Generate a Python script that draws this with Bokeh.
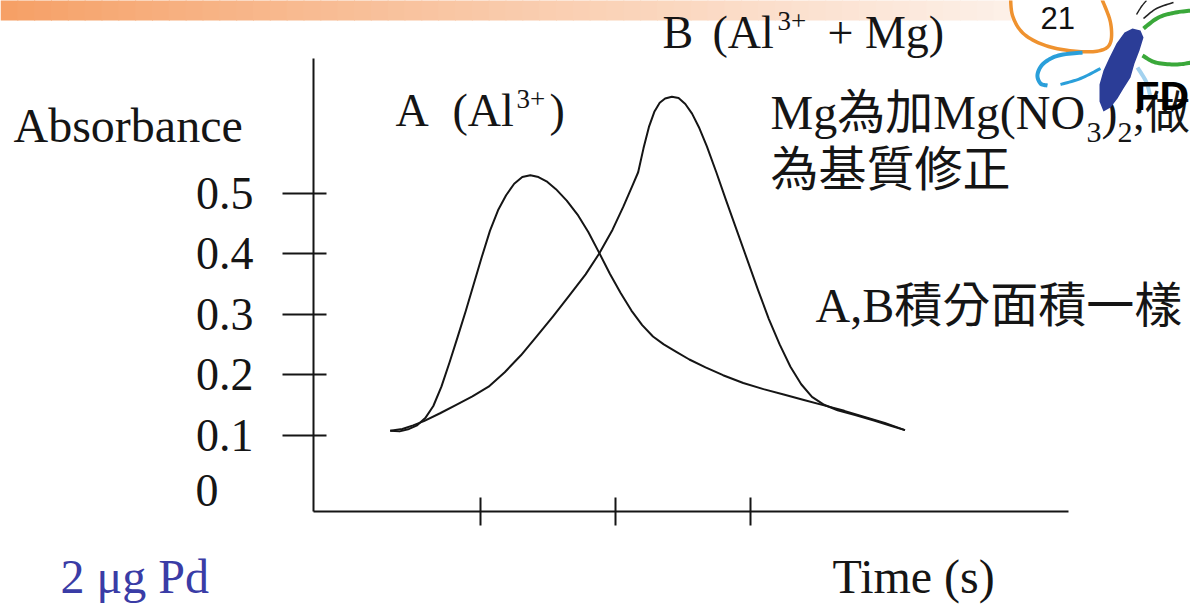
import numpy as np
from bokeh.plotting import figure
from bokeh.models import Range1d, FixedTicker, Label, PolyAnnotation
from bokeh.embed import file_html
from bokeh.resources import INLINE

# ---------------- data ----------------
time_ticks = [1, 2, 3]
absorbance_ticks = [0.1, 0.2, 0.3, 0.4, 0.5]

# curve A (Al3+)
a_time = [0.33, 0.40, 0.47, 0.53, 0.59, 0.65, 0.71, 0.77, 0.83, 0.89, 0.95, 1.01,
          1.07, 1.13, 1.19, 1.25, 1.31, 1.37, 1.43, 1.49, 1.56, 1.64, 1.72, 1.80,
          1.88, 1.96, 2.04, 2.12, 2.20, 2.28, 2.36, 2.45, 2.55, 2.67, 2.80, 2.95,
          3.10, 3.25, 3.40, 3.55, 3.70, 3.85, 4.00, 4.15]
a_abs = [0.107, 0.106, 0.110, 0.116, 0.128, 0.148, 0.180, 0.220, 0.262, 0.305, 0.350, 0.395,
         0.438, 0.472, 0.497, 0.516, 0.527, 0.530, 0.527, 0.520, 0.507, 0.488, 0.465, 0.436,
         0.402, 0.367, 0.335, 0.306, 0.282, 0.263, 0.250, 0.238, 0.225, 0.212, 0.199, 0.186,
         0.176, 0.167, 0.158, 0.149, 0.140, 0.130, 0.120, 0.108]

# curve B (Al3+ + Mg)
b_time = [0.33, 0.42, 0.50, 0.58, 0.70, 0.82, 0.94, 1.06, 1.18, 1.30, 1.42, 1.54,
          1.66, 1.78, 1.88, 1.98, 2.06, 2.13, 2.17, 2.21, 2.25, 2.29, 2.33, 2.37,
          2.42, 2.47, 2.52, 2.57, 2.62, 2.68, 2.75, 2.82, 2.90, 2.98, 3.06, 3.14,
          3.22, 3.30, 3.38, 3.46, 3.55, 3.65, 3.78, 3.92, 4.05, 4.15]
b_abs = [0.107, 0.110, 0.116, 0.123, 0.136, 0.150, 0.164, 0.180, 0.204, 0.232, 0.264, 0.297,
         0.331, 0.366, 0.400, 0.440, 0.478, 0.514, 0.535, 0.575, 0.610, 0.635, 0.650, 0.657,
         0.660, 0.658, 0.648, 0.632, 0.610, 0.578, 0.535, 0.490, 0.440, 0.390, 0.340, 0.292,
         0.250, 0.213, 0.184, 0.163, 0.150, 0.141, 0.133, 0.124, 0.115, 0.108]

SERIF = "'Liberation Serif', 'Noto Sans CJK TC'"
INK = "#151515"

# ---------------- layout calibration (pixels of the slide) ----------------
W, H = 1190, 605
PX_TICK1, PX_PER_UNIT = 480.0, 134.75      # x pixel of time tick 1, pixels per tick step
PY_TICK01, PY_PER_UNIT = 434.5, 604.0      # y pixel of absorbance 0.1, pixels per 1.0
AXIS_LEFT_PX, AXIS_RIGHT_PX = 313, 1068
AXIS_BOTTOM_PX, AXIS_TOP_PX = 511, 58
BASELINE_FIX = 0.37                         # label anchor correction (fraction of font size)


def dx(px):
    return 1 + (px - PX_TICK1) / PX_PER_UNIT


def dy(py):
    return 0.1 + (PY_TICK01 - py) / PY_PER_UNIT


p = figure(width=W, height=H,
           x_range=Range1d(dx(0), dx(W)), y_range=Range1d(dy(H), dy(0)),
           output_backend="svg", toolbar_location=None, min_border=0)
p.outline_line_color = None
p.grid.visible = False
p.background_fill_color = "white"
p.border_fill_color = "white"

xa = p.xaxis[0]
xa.fixed_location = dy(AXIS_BOTTOM_PX)
xa.bounds = (dx(AXIS_LEFT_PX), dx(AXIS_RIGHT_PX))
xa.ticker = FixedTicker(ticks=time_ticks, minor_ticks=[])
xa.major_label_overrides = {t: "" for t in time_ticks}
xa.major_tick_in = 14
xa.major_tick_out = 14
xa.axis_line_width = 2
xa.axis_line_color = INK
xa.major_tick_line_width = 2
xa.major_tick_line_color = INK
xa.minor_tick_line_color = None

ya = p.yaxis[0]
ya.fixed_location = dx(AXIS_LEFT_PX)
ya.bounds = (dy(AXIS_BOTTOM_PX), dy(AXIS_TOP_PX))
ya.ticker = FixedTicker(ticks=absorbance_ticks, minor_ticks=[])
ya.major_tick_in = 13
ya.major_tick_out = 31
ya.axis_line_width = 2
ya.axis_line_color = INK
ya.major_tick_line_width = 2
ya.major_tick_line_color = INK
ya.minor_tick_line_color = None
ya.major_label_text_font = SERIF
ya.major_label_text_font_size = "46px"
ya.major_label_text_color = INK
ya.major_label_standoff = 29

p.line(a_time, a_abs, line_width=2, line_color=INK, line_join="round")
p.line(b_time, b_abs, line_width=2, line_color=INK, line_join="round")


def sx(px):
    return px


def sy(py):
    return H - py


def put(text, px, py, size, color=INK, font=SERIF, style="normal", level="annotation"):
    p.add_layout(Label(x=sx(px), y=sy(py - BASELINE_FIX * size), x_units="screen", y_units="screen",
                       text=text, text_font=font, text_font_size=f"{size}px",
                       text_color=color, text_baseline="alphabetic",
                       text_align="left", text_font_style=style, level=level))


def poly(pts_page, color, level="overlay"):
    pts = np.asarray(pts_page, float)
    p.add_layout(PolyAnnotation(xs=[sx(v) for v in pts[:, 0]], ys=[sy(v) for v in pts[:, 1]],
                                xs_units="screen", ys_units="screen",
                                fill_color=color, fill_alpha=1.0, line_color=None,
                                level=level))


def stroke(pts_page, w, color):
    P = np.asarray(pts_page, float)
    n = len(P)
    out = []
    for i in range(n - 1):
        p0 = P[max(i - 1, 0)]
        p1 = P[i]
        p2 = P[i + 1]
        p3 = P[min(i + 2, n - 1)]
        for t in np.linspace(0, 1, 10, endpoint=False):
            t2, t3 = t * t, t * t * t
            out.append(0.5 * ((2 * p1) + (-p0 + p2) * t + (2 * p0 - 5 * p1 + 4 * p2 - p3) * t2
                              + (-p0 + 3 * p1 - 3 * p2 + p3) * t3))
    out.append(P[-1])
    C = np.array(out)
    d = np.gradient(C, axis=0)
    nrm = np.stack([-d[:, 1], d[:, 0]], axis=1)
    nrm /= np.linalg.norm(nrm, axis=1, keepdims=True) + 1e-9
    left = C + nrm * w / 2
    right = C - nrm * w / 2
    poly(np.vstack([left, right[::-1]]), color)


# ---------------- top banner gradient (drawn beneath the texts) ----------------
c0 = np.array([246, 160, 102])
c1 = np.array([253, 240, 231])
steps = 60
for i in range(steps):
    t = (i / (steps - 1)) ** 0.9
    c = (c0 + (c1 - c0) * t).astype(int)
    x0 = 1010 * i / steps
    x1 = 1010 * (i + 1) / steps + 1
    poly([(x0, -2), (x1, -2), (x1, 20), (x0, 20)], "#%02x%02x%02x" % tuple(c), level="underlay")

# ---------------- texts ----------------
put("Absorbance", 13, 143, 48)
put("0", 195, 507, 46)

put("A", 395, 127, 46)
put("(Al", 452, 127, 46)
put("3+", 516, 108, 27)
put(")", 549, 127, 46)

put("B", 662, 49, 46)
put("(Al", 712, 49, 46)
put("3+", 777, 30, 27)
put("+ Mg)", 827, 49, 46)

put("Mg為加Mg(NO", 770, 130, 48)
put("3", 1086, 143, 30)
put(")", 1101, 130, 48)
put("2", 1117, 143, 30)
put(";做", 1132, 130, 45)
put("為基質修正", 770, 187, 48)

put("A,B積分面積一樣", 815, 323, 48)
put("2 μg Pd", 60, 594, 48, color="#3a3ca6")
put("Time (s)", 832, 594, 48)

# ---------------- logo (decoration) ----------------
stroke([(1010, -10), (1012, 15), (1024, 34), (1048, 46), (1078, 51), (1100, 50),
        (1110, 42), (1110, 22), (1102, 0), (1098, -10)], 3.5, "#ef922f")
stroke([(1082, 52), (1058, 55), (1043, 63), (1037, 74), (1040, 83), (1047, 85)], 4, "#2a9fda")
stroke([(1060, 84), (1080, 78), (1100, 68)], 3, "#2a9fda")
stroke([(1137, 67), (1146, 82), (1150, 97)], 4, "#a3d2ef")
stroke([(1143, 28), (1158, 17), (1175, 12), (1192, 10)], 4, "#3aa83a")
stroke([(1142, 55), (1155, 62), (1175, 64), (1192, 62)], 4, "#3aa83a")
stroke([(1143, 18), (1156, 8), (1173, 2)], 1.6, "#222222")
stroke([(1136, 14), (1141, 6), (1146, 0)], 1.4, "#222222")
poly([(1132, 28), (1140, 30), (1143, 37), (1139, 50), (1134, 63), (1130, 77), (1123, 88),
      (1117, 98), (1110, 107), (1103, 111), (1099, 101), (1099, 84), (1103, 70), (1109, 57),
      (1116, 43), (1124, 32)], "#2b3d97")

put("21", 1040, 29, 31, color="#111111", font="Liberation Sans", level="overlay")
put("FD", 1134, 111, 41, color="#000000", font="Liberation Sans", style="bold", level="overlay")

open("out.html", "w").write(file_html(p, INLINE))
